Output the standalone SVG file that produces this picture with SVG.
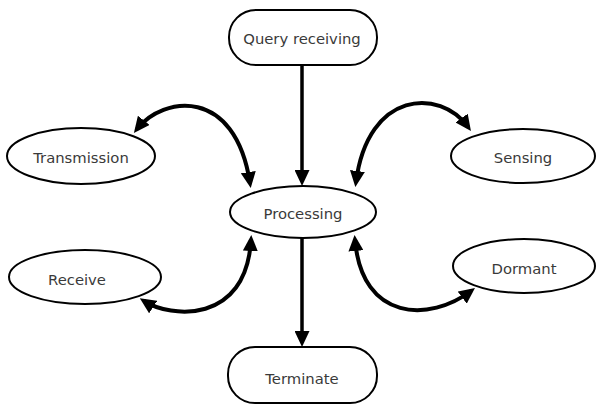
<svg xmlns="http://www.w3.org/2000/svg" width="600" height="405" viewBox="0 0 600 405">
<style>
.n{fill:#fff;stroke:#000;stroke-width:2}
.t{font-family:"DejaVu Sans","Liberation Sans",sans-serif;font-size:14.8px;fill:#3a3a3a;text-anchor:middle;dominant-baseline:central}
.c{fill:none;stroke:#000;stroke-width:4}
.v{fill:none;stroke:#000;stroke-width:3.5}
</style>
<defs>
<marker id="ah" markerUnits="userSpaceOnUse" markerWidth="17" markerHeight="15" refX="11" refY="7.5" orient="auto-start-reverse" viewBox="0 0 17 15">
<path d="M0,0 L16,7.5 L0,15 z" fill="#000"/>
</marker>
</defs>
<rect width="600" height="405" fill="#fff"/>
<g id="connectors">
<path class="v" d="M302,65 L302,181" marker-end="url(#ah)"/>
<path class="v" d="M302,238 L302,342" marker-end="url(#ah)"/>
<path class="c" d="M137,129 C163,96 235,86 250,183" marker-start="url(#ah)" marker-end="url(#ah)"/>
<path class="c" d="M356,182 C368,90 440,88 468,127" marker-start="url(#ah)" marker-end="url(#ah)"/>
<path class="c" d="M144,301 C170,318 246,325 251,240" marker-start="url(#ah)" marker-end="url(#ah)"/>
<path class="c" d="M355,240 C362,322 430,322 471,291" marker-start="url(#ah)" marker-end="url(#ah)"/>
</g>
<g id="query"><rect class="n" x="229" y="10" width="148" height="55" rx="27"/><text class="t" x="302" y="38">Query receiving</text></g>
<g id="transmission"><ellipse class="n" cx="81" cy="156" rx="74" ry="28"/><text class="t" x="81" y="157">Transmission</text></g>
<g id="sensing"><ellipse class="n" cx="523" cy="156" rx="72" ry="27"/><text class="t" x="523" y="157">Sensing</text></g>
<g id="processing"><ellipse class="n" cx="303" cy="212" rx="73" ry="26"/><text class="t" x="303" y="213">Processing</text></g>
<g id="receive"><ellipse class="n" cx="85" cy="277" rx="76" ry="27"/><text class="t" x="77" y="279">Receive</text></g>
<g id="dormant"><ellipse class="n" cx="524" cy="266" rx="71" ry="27"/><text class="t" x="524" y="268">Dormant</text></g>
<g id="terminate"><rect class="n" x="228" y="347" width="149" height="56" rx="27"/><text class="t" x="302" y="378">Terminate</text></g>
</svg>
